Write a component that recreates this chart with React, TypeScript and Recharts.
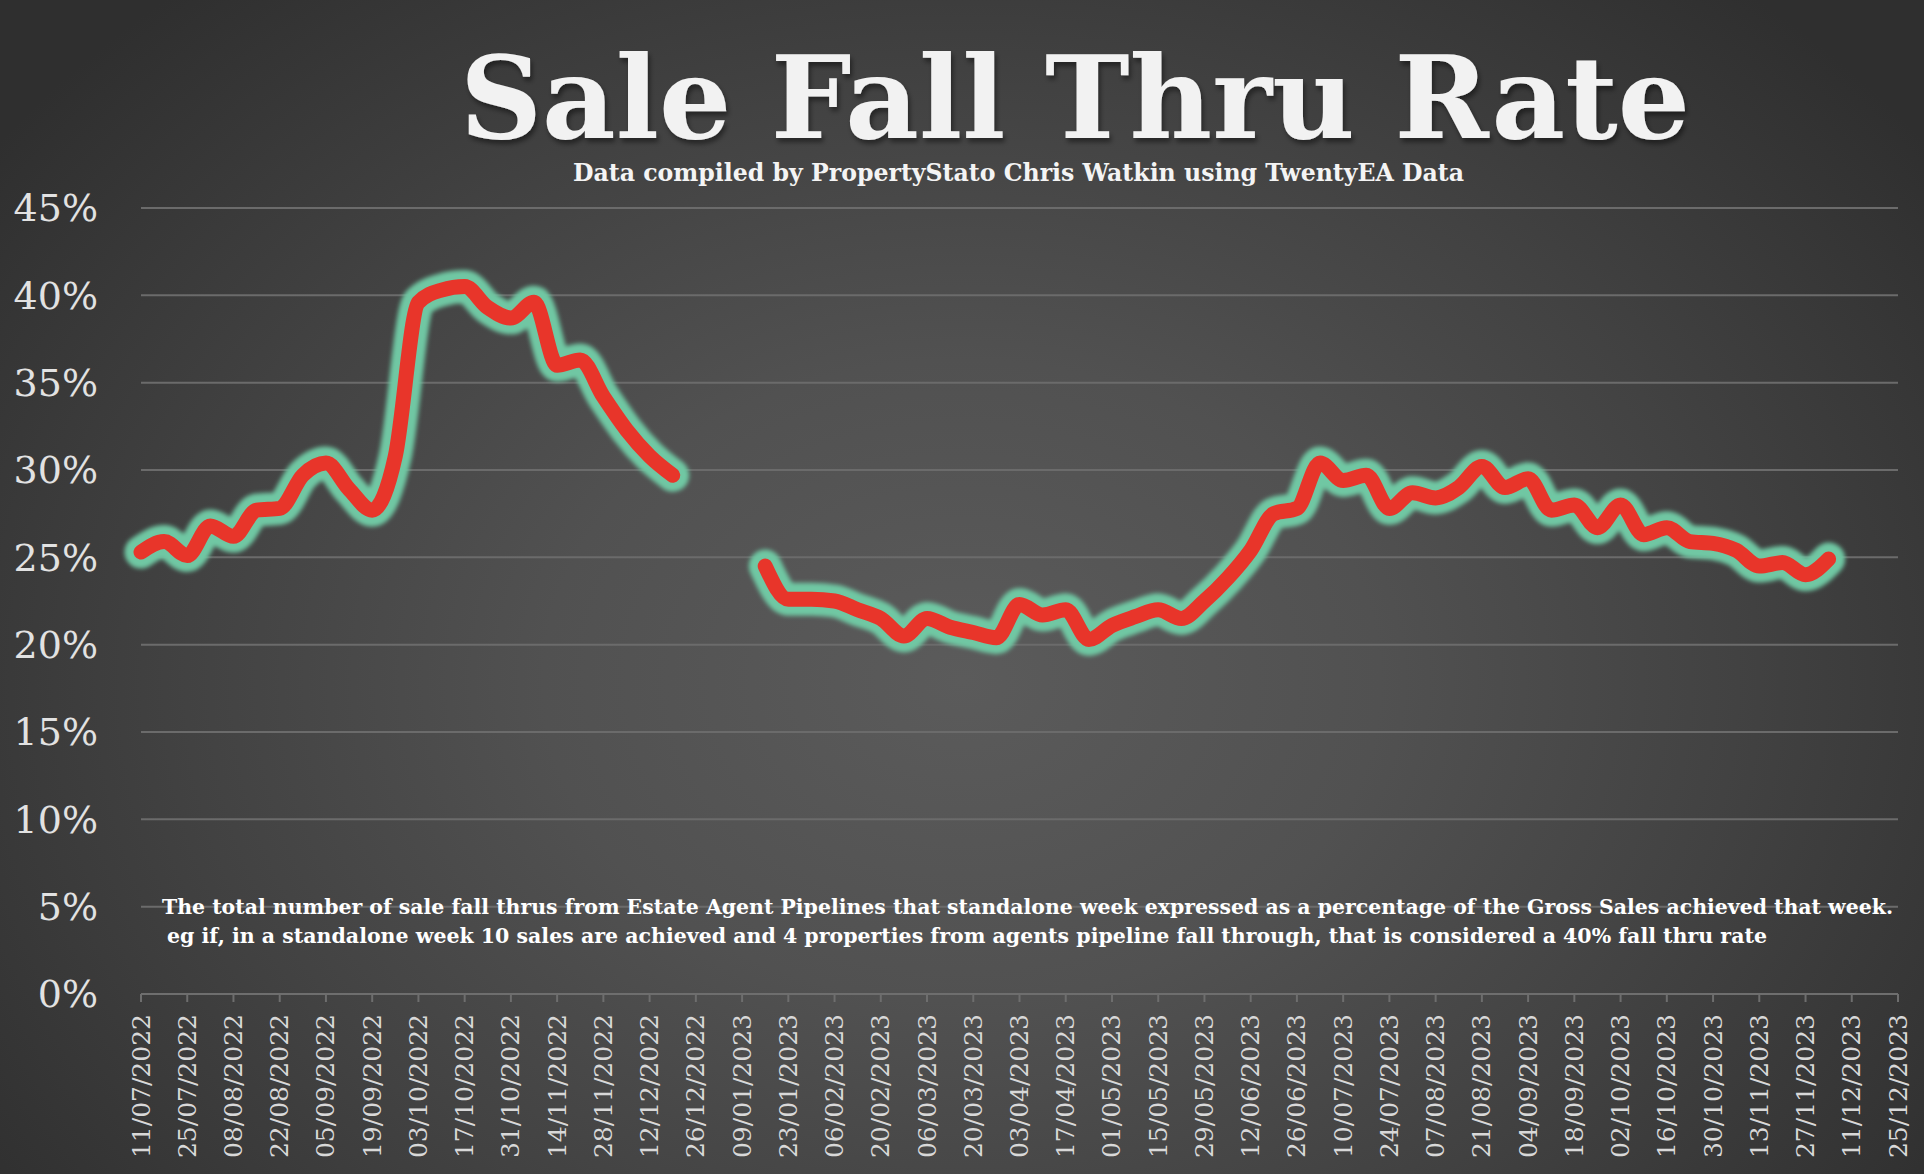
import React from 'react';
import { LineChart, Line, XAxis, YAxis, CartesianGrid } from 'recharts';

// weekly buckets, Mondays
const WEEKS = [
  '11/07/2022', '18/07/2022', '25/07/2022', '01/08/2022', '08/08/2022', '15/08/2022', '22/08/2022',
  '29/08/2022', '05/09/2022', '12/09/2022', '19/09/2022', '26/09/2022', '03/10/2022', '10/10/2022',
  '17/10/2022', '24/10/2022', '31/10/2022', '07/11/2022', '14/11/2022', '21/11/2022', '28/11/2022',
  '05/12/2022', '12/12/2022', '19/12/2022', '26/12/2022', '02/01/2023', '09/01/2023', '16/01/2023',
  '23/01/2023', '30/01/2023', '06/02/2023', '13/02/2023', '20/02/2023', '27/02/2023', '06/03/2023',
  '13/03/2023', '20/03/2023', '27/03/2023', '03/04/2023', '10/04/2023', '17/04/2023', '24/04/2023',
  '01/05/2023', '08/05/2023', '15/05/2023', '22/05/2023', '29/05/2023', '05/06/2023', '12/06/2023',
  '19/06/2023', '26/06/2023', '03/07/2023', '10/07/2023', '17/07/2023', '24/07/2023', '31/07/2023',
  '07/08/2023', '14/08/2023', '21/08/2023', '28/08/2023', '04/09/2023', '11/09/2023', '18/09/2023',
  '25/09/2023', '02/10/2023', '09/10/2023', '16/10/2023', '23/10/2023', '30/10/2023', '06/11/2023',
  '13/11/2023', '20/11/2023', '27/11/2023', '04/12/2023', '11/12/2023', '18/12/2023', '25/12/2023',
];

// fall thru rate in %, null = no data that week
const FALL_THRU = [
  25.3, 25.9, 25.1, 26.8, 26.2, 27.7, 27.8, 29.7, 30.4, 28.9, 27.7, 30.8, 39.6, 40.3,
  40.5, 39.3, 38.7, 39.6, 36.0, 36.3, 34.2, 32.3, 30.8, 29.7, null, null, null, 24.5,
  22.6, 22.6, 22.5, 22.0, 21.5, 20.5, 21.5, 21.0, 20.7, 20.4, 22.3, 21.7, 22.0, 20.3,
  21.1, 21.6, 22.0, 21.5, 22.5, 23.8, 25.4, 27.5, 27.8, 30.4, 29.4, 29.7, 27.8, 28.7,
  28.4, 29.0, 30.2, 29.0, 29.5, 27.7, 28.0, 26.7, 28.0, 26.3, 26.7, 25.9, 25.8, 25.4,
  24.5, 24.7, 24.0, 24.9, null, null, null,
];

const Y_TICKS = [0, 5, 10, 15, 20, 25, 30, 35, 40, 45];

const TITLE = 'Sale Fall Thru Rate';
const SUBTITLE = 'Data compiled by PropertyStato Chris Watkin using TwentyEA Data';
const NOTE_1 = 'The total number of sale fall thrus from Estate Agent Pipelines that standalone week expressed as a percentage of the Gross Sales achieved that week.';
const NOTE_2 = 'eg if, in a standalone week 10 sales are achieved and 4 properties from agents pipeline fall through, that is considered a 40%  fall thru rate';

const data = WEEKS.map((week, i) => ({ week, rate: FALL_THRU[i] }));

const SERIF = '"DejaVu Serif", "Liberation Serif", serif';

const DateTick = ({ x, y, payload }: any) => (
  <text
    x={x}
    y={y}
    transform={`rotate(-90, ${x}, ${y})`}
    textAnchor="end"
    dominantBaseline="central"
    fill="#d8d8d8"
    fontSize={25}
    fontFamily={SERIF}
  >
    {payload.value}
  </text>
);

const App = () => {
  return (
    <div
      style={{
        position: 'relative',
        width: 1924,
        height: 1174,
        overflow: 'hidden',
        background:
          'radial-gradient(ellipse 62% 78% at 50% 58%, #5b5b5b 0%, #515151 35%, #424242 65%, #2f2f2f 100%)',
      }}
    >
      <style>{`body{margin:0} .glow-line{filter:url(#glow)}`}</style>
      <svg width={0} height={0} style={{ position: 'absolute' }}>
        <defs>
          <filter id="glow" x="-5%" y="-20%" width="110%" height="140%">
            <feGaussianBlur stdDeviation="2.2" />
          </filter>
          <filter id="shadow" x="-5%" y="-20%" width="110%" height="150%">
            <feDropShadow dx="2" dy="4" stdDeviation="2.5" floodColor="#000" floodOpacity="0.45" />
          </filter>
        </defs>
      </svg>

      <LineChart
        width={1924}
        height={1174}
        data={data}
        margin={{ top: 208, right: 26, left: 0, bottom: 10 }}
      >
        <CartesianGrid vertical={false} stroke="#6b6b6b" strokeWidth={2} />
        <XAxis
          dataKey="week"
          interval={1}
          height={170}
          tick={<DateTick />}
          tickSize={8}
          tickMargin={12}
          tickLine={{ stroke: '#6e6e6e', strokeWidth: 2 }}
          axisLine={{ stroke: '#6e6e6e', strokeWidth: 2 }}
        />
        <YAxis
          domain={[0, 45]}
          ticks={Y_TICKS}
          width={141}
          axisLine={false}
          tickLine={false}
          tickMargin={37}
          tickFormatter={(v: number) => `${v}%`}
          tick={{ fill: '#e2e2e2', fontSize: 38, fontFamily: SERIF }}
        />
        <Line
          className="glow-line"
          type="monotone"
          dataKey="rate"
          stroke="#6fc7a3"
          strokeWidth={33}
          strokeLinecap="round"
          strokeLinejoin="round"
          dot={false}
          activeDot={false}
          isAnimationActive={false}
        />
        <Line
          type="monotone"
          dataKey="rate"
          stroke="#e8352a"
          strokeWidth={15}
          strokeLinecap="round"
          strokeLinejoin="round"
          dot={false}
          activeDot={false}
          isAnimationActive={false}
        />
      </LineChart>

      <svg
        width={1924}
        height={1174}
        style={{ position: 'absolute', left: 0, top: 0, pointerEvents: 'none' }}
      >
        <text
          x={460}
          y={138}
          textLength={1230}
          lengthAdjust="spacingAndGlyphs"
          fill="#f2f2f2"
          fontSize={114}
          fontWeight="bold"
          fontFamily={SERIF}
          filter="url(#shadow)"
        >
          {TITLE}
        </text>
        <text
          x={573}
          y={181}
          textLength={891}
          lengthAdjust="spacingAndGlyphs"
          fill="#f4f4f4"
          fontSize={24}
          fontWeight="bold"
          fontFamily={SERIF}
        >
          {SUBTITLE}
        </text>
        <text
          x={162}
          y={914}
          textLength={1731}
          lengthAdjust="spacingAndGlyphs"
          fill="#ffffff"
          fontSize={20}
          fontWeight="bold"
          fontFamily={SERIF}
        >
          {NOTE_1}
        </text>
        <text
          x={167}
          y={943}
          textLength={1600}
          lengthAdjust="spacingAndGlyphs"
          fill="#ffffff"
          fontSize={21}
          fontWeight="bold"
          fontFamily={SERIF}
        >
          {NOTE_2}
        </text>
      </svg>
    </div>
  );
};

export default App;
